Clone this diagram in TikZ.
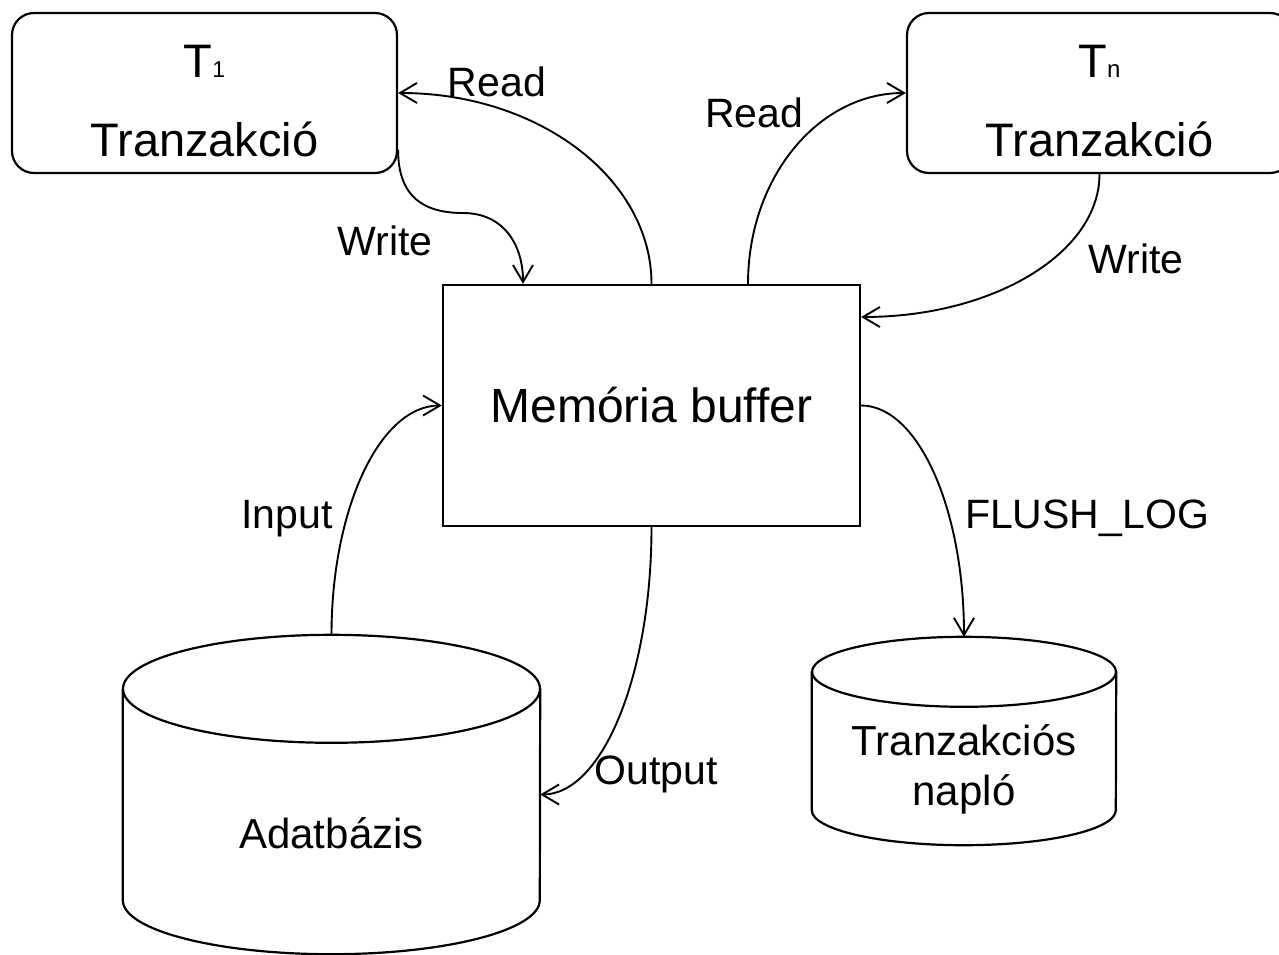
\documentclass[tikz,border=0pt]{standalone}
\usepackage{fontspec}
\setmainfont{Liberation Sans}
\usetikzlibrary{arrows.meta,calc}

% cylinder outline around a named node: #1 node, #2 x radius, #3 y radius
\newcommand\drawcyl[3]{%
  \draw[shapeline] ($(#1.north west)+(0,#3)$) -- ($(#1.south west)+(0,-#3)$)
    arc[start angle=180, end angle=0, x radius=#2, y radius=#3]
    -- ($(#1.north east)+(0,#3)$);
  \draw[shapeline] ($(#1.north)+(0,#3)$) ellipse[x radius=#2, y radius=#3];
}

\begin{document}
\begin{tikzpicture}[x=1pt, y=-1pt,
  shapeline/.style={line width=2.2pt, line join=round},
  txbox/.style={draw, line width=2.2pt, rounded corners=22pt,
    minimum width=385pt, minimum height=160pt, inner sep=0pt, align=center,
    font=\fontsize{47pt}{79pt}\selectfont, text height=127pt, text depth=0pt},
  membox/.style={draw, line width=2.2pt, minimum width=417pt, minimum height=241pt,
    inner sep=0pt, font=\fontsize{48pt}{58pt}\selectfont},
  cylnode/.style={inner sep=0pt, align=center, text depth=0pt,
    font=\fontsize{42pt}{50pt}\selectfont},
  flow/.style={line width=1.9pt, -{Straight Barb[length=17pt, width=20pt, line width=1.9pt]}},
  lbl/.style={inner sep=0pt, anchor=base, font=\fontsize{41pt}{49pt}\selectfont},
]
\clip (0,0) rectangle (1279,955);

% transactions
\node[txbox] (t1) at (204.5,93) {T{\fontsize{23pt}{23pt}\selectfont 1}\\Tranzakció};
\node[txbox] (tn) at (1099.5,93) {T{\fontsize{24pt}{24pt}\selectfont n}\\Tranzakció};

% memory buffer
\node[membox] (mem) at (651.5,405.5) {Memória buffer};

% database and transaction log
\node[cylnode, minimum width=417pt, minimum height=319pt, text height=107pt] (db) at (331.5,794.5) {Adatbázis};
\node[cylnode, minimum width=304pt, minimum height=208pt, text height=128pt] (log) at (964,741) {Tranzakciós\\napló};
\drawcyl{db}{208.5}{54}
\drawcyl{log}{152}{35}

% data flows
\draw[flow] (mem.north) .. controls +(0,-105) and +(141,0) .. (t1.east);
\draw[flow] ([yshift=-57pt]t1.east) .. controls +(0,48) and +(-38,0) .. (463,213)
  .. controls +(40,0) and +(0,-40) .. ([xshift=-128.5pt]mem.north);
\draw[flow] ([xshift=96.5pt]mem.north) .. controls +(0,-106) and +(-88,0) .. (tn.west);
\draw[flow] (tn.south) .. controls +(0,79) and +(132,0) .. ([yshift=88.5pt]mem.east);
\draw[flow] (db.north) .. controls +(0,-126) and +(-62,0) .. (mem.west);
\draw[flow] (mem.south) .. controls +(0,148) and +(62,0) .. (db.east);
\draw[flow] (mem.east) .. controls +(57,0) and +(0,-128) .. (log.north);

% flow labels
\node[lbl] (lreadl) at (497,97) {Read};
\node[lbl] (lwritel) at (385,255) {Write};
\node[lbl] (lreadr) at (754,128) {Read};
\node[lbl] (lwriter) at (1136,273) {Write};
\node[lbl] (linput) at (287,528) {Input};
\node[lbl] (loutput) at (656,784) {Output};
\node[lbl] (lflush) at (1087,528) {FLUSH\_LOG};
\end{tikzpicture}
\end{document}
